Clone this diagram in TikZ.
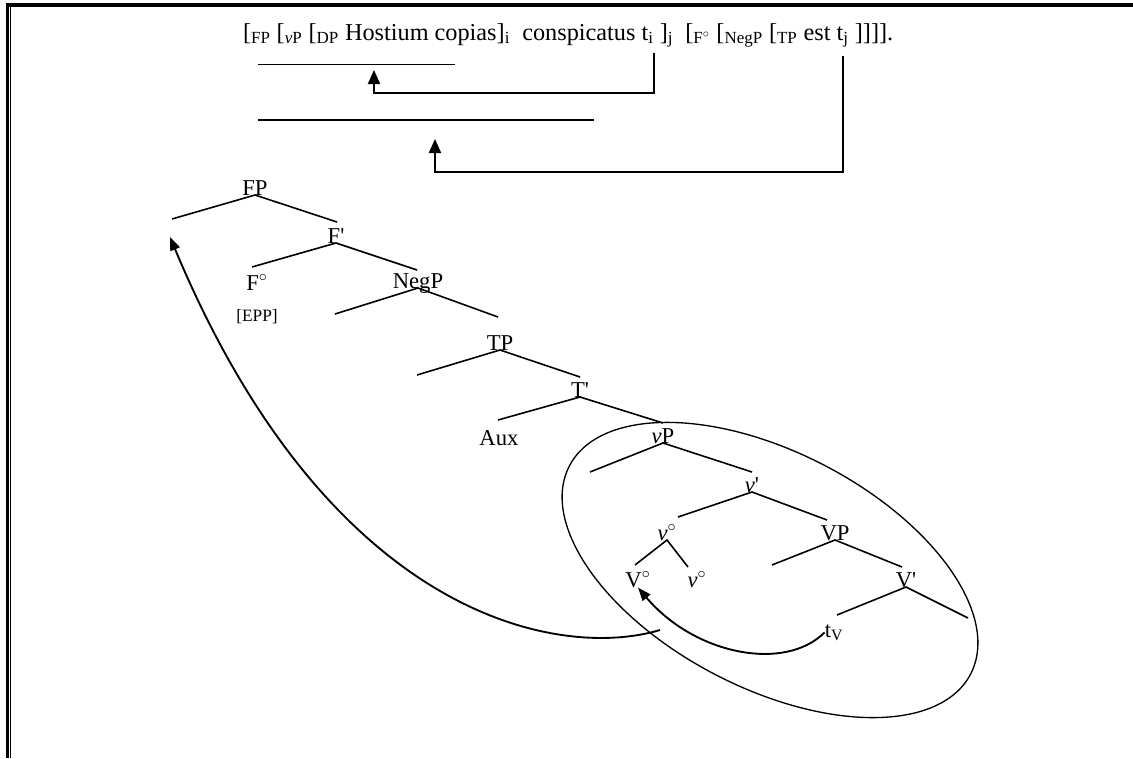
\documentclass[tikz,border=0pt]{standalone}
\usepackage{fontspec}
\setmainfont{Liberation Serif}
\usetikzlibrary{arrows.meta,positioning}

\begin{document}
\begin{tikzpicture}[x=0.75pt,y=-0.75pt,
      str/.style={inner sep=0pt,outer xsep=0pt,outer ysep=7pt,font=\fontsize{18.2}{21}\selectfont},
      cat/.style={anchor=base,inner sep=0pt,font=\fontsize{17}{19}\selectfont},
      feat/.style={anchor=base,inner sep=0pt,font=\fontsize{13}{15}\selectfont},
      branch/.style={line width=1.2pt},
      rule/.style={line width=0.8pt},
      move/.style={-{Triangle[length=10.5pt,width=9pt]},line width=1.5pt},
      curvemove/.style={-{Triangle[length=10pt,width=7.5pt]},line width=1.4pt}
    ]
    \useasboundingbox (0,0) rectangle (1133,758);
    \draw[line width=2.6pt] (6,5) -- (1133,5);
    \draw[line width=2pt] (7.3,3.5) -- (7.3,758);
    \draw[line width=1.2pt] (10.5,6) -- (10.5,758);

    \node[str,anchor=base west] (s1) at (243,40)
      {[\textsubscript{FP} [\textsubscript{\textit{v}P} [\textsubscript{DP} Hostium copias]\textsubscript{i}\ \ conspicatus\ \kern0pt};
    \node[str,base right=0pt of s1] (ti) {t\textsubscript{i}};
    \node[str,base right=0pt of ti] (s2)
      {\ ]\textsubscript{j}\ \ [\textsubscript{F$^\circ$}\ [\textsubscript{NegP}\ [\textsubscript{TP}\ est\ \kern0pt};
    \node[str,base right=0pt of s2] (tj) {t\textsubscript{j}};
    \node[str,base right=0pt of tj] (s3) {\ ]]]].};

    \coordinate (u1a) at (258,64.6);
    \coordinate (u1b) at (455,64.6);
    \coordinate (u2a) at (258,120);
    \coordinate (u2b) at (594,120);
    \draw[rule] (u1a) -- (u1b);
    \draw[rule] (u2a) -- (u2b);
    \coordinate (bi) at (0,92.7);
    \coordinate (gapi) at (374,70);
    \coordinate (bj) at (0,172);
    \coordinate (gapj) at (435,139);
    \draw[move] (ti.south east) -- (ti.south east |- bi) -| (gapi);
    \draw[move] (tj.south) -- (tj.south |- bj) -| (gapj);

    \node[cat] (fp) at (255,195) {FP};
    \node[cat] (f1) at (336,243) {F\textquotesingle};
    \node[cat] (f0) at (257,290) {F$^\circ$};
    \node[feat] (epp) at (257,321) {[EPP]};
    \node[cat] (negp) at (418,288) {NegP};
    \node[cat] (tp) at (500,350) {TP};
    \node[cat] (t1) at (580,397) {T\textquotesingle};
    \node[cat] (aux) at (499,445) {Aux};
    \node[cat] (vp) at (663,443) {\textit{v}P};
    \node[cat] (v1) at (752,492) {\textit{v}\textquotesingle};
    \node[cat] (v0) at (667,540) {\textit{v}$^\circ$};
    \node[cat] (vv0) at (638,587) {V$^\circ$};
    \node[cat] (v0b) at (697,587) {\textit{v}$^\circ$};
    \node[cat] (vbig) at (835,540) {VP};
    \node[cat] (vbar) at (906,587) {V\textquotesingle};
    \node[cat] (tv) at (834,637) {t\textsubscript{V}};

    \coordinate (fpL) at (172,219);
    \coordinate (fpR) at (337,222);
    \coordinate (f1L) at (252,267);
    \coordinate (f1R) at (417,270);
    \coordinate (negL) at (335,314);
    \coordinate (negR) at (498,317);
    \coordinate (tpL) at (417,375);
    \coordinate (tpR) at (580,377);
    \coordinate (t1L) at (498,420);
    \coordinate (t1R) at (663,423);
    \coordinate (vpL) at (590,472);
    \coordinate (vpR) at (752,472);
    \coordinate (v1L) at (678,517);
    \coordinate (v1R) at (827,520);
    \coordinate (v0L) at (635,565);
    \coordinate (v0R) at (688,567);
    \coordinate (vbigL) at (772,565);
    \coordinate (vbigR) at (902,567);
    \coordinate (vbarL) at (837,615);
    \coordinate (vbarR) at (968,618);
    \draw[branch] (fpL) -- (fp.base) -- (fpR);
    \draw[branch] (f1L) -- (f1.base) -- (f1R);
    \draw[branch] (negL) -- (negp.base) -- (negR);
    \draw[branch] (tpL) -- (tp.base) -- (tpR);
    \draw[branch] (t1L) -- (t1.base) -- (t1R);
    \draw[branch] (vpL) -- (vp.base) -- (vpR);
    \draw[branch] (v1L) -- (v1.base) -- (v1R);
    \draw[branch] (v0L) -- (v0.base) -- (v0R);
    \draw[branch] (vbigL) -- (vbig.base) -- (vbigR);
    \draw[branch] (vbarL) -- (vbar.base) -- (vbarR);

    \draw[line width=1pt,rotate around={-27.4:(770,570)}] (770,570) ellipse [x radius=226,y radius=118];

    \coordinate (vpout) at (660,630);
    \coordinate (fpspec) at (170,237);
    \draw[curvemove] (tv.west) .. controls (785,672) and (695,655) .. (vv0.south);
    \draw[curvemove] (vpout) .. controls (560,660) and (330,620) .. (fpspec);
  \end{tikzpicture}
\end{document}
